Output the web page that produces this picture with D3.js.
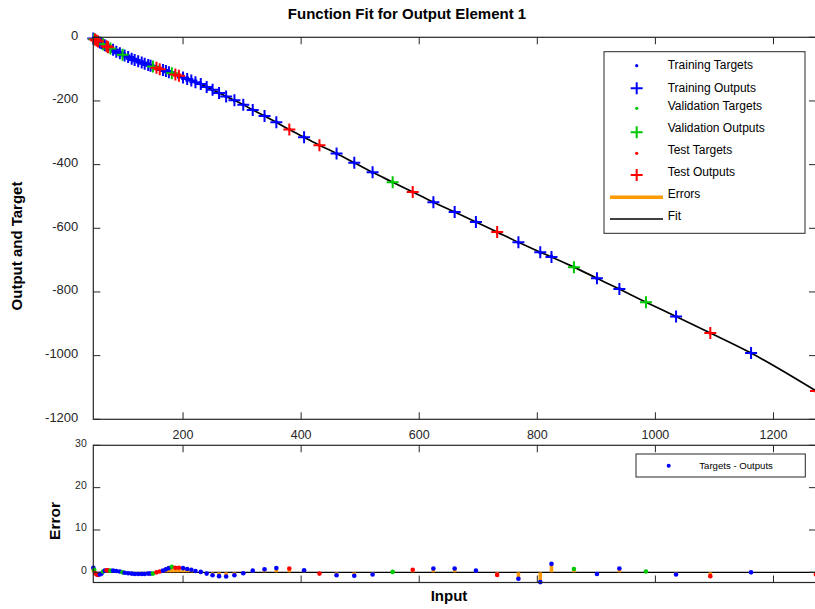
<!DOCTYPE html>
<html>
<head>
<meta charset="utf-8">
<script src="https://cdn.jsdelivr.net/npm/d3@7"></script>
<style>
  body { margin: 0; background: #fff; }
  svg { display: block; font-family: "Liberation Sans", Arial, Helvetica, sans-serif; }
</style>
</head>
<body>
<svg id="chart" width="815" height="609"></svg>
<script>
// Input samples, network outputs and targets for output element 1
const inputs = [48, 49.5, 51, 53.5, 56, 59, 62, 64.5, 67.5, 70.5, 73, 77, 81.5, 87, 93, 97.5, 101, 107, 113, 118,
  124, 130, 135, 141, 145, 149, 155, 160.5, 166, 171, 176, 181, 187, 193, 200, 207, 214, 221, 230, 240,
  250, 261, 273, 287, 302, 318, 338, 358, 380, 405, 431, 460, 490, 521, 555, 589, 624, 660, 696, 732,
  768, 805, 824, 862, 901, 939, 984, 1035, 1093, 1162, 1272];

const outputs = [-4, -6, -7, -10, -13, -16, -19, -22, -25, -28, -31, -35, -39, -45, -50, -55, -57, -62, -67, -71,
  -75, -79, -83, -87, -89, -92, -96, -100, -103, -106, -109.5, -113, -117, -121, -126, -131, -136, -141, -147, -156,
  -165, -175, -186, -198, -212, -228, -247, -267, -290, -314, -339, -365, -394, -424, -455, -486, -518, -549, -580, -612,
  -644, -675, -690, -722, -757, -791, -832, -877, -929, -992, -1111];

const targets = [-2.9, -5.4, -7.2, -10.5, -13.6, -16.5, -19.3, -21.8, -24.6, -27.5, -30.5, -34.6, -38.6, -44.7, -49.8, -55.0, -57.1, -62.2, -67.3, -71.4,
  -75.4, -79.4, -83.4, -87.3, -89.3, -92.3, -96.0, -99.8, -102.6, -105.3, -108.5, -111.7, -115.9, -119.9, -125.0, -130.2, -135.4, -140.7, -146.9, -156.3,
  -165.7, -175.9, -187.0, -198.7, -212.2, -227.6, -246.3, -266.0, -289.1, -313.5, -339.3, -365.7, -394.8, -424.5, -454.9, -485.4, -517.1, -548.1, -579.6, -612.6,
  -645.5, -677.3, -688.0, -721.2, -757.4, -790.1, -831.8, -877.5, -929.9, -992.0, -1111.5];

// Data division of each sample
const subsets = ["train", "val", "test", "test", "test", "train", "train", "val", "train", "test",
  "test", "val", "train", "train", "train", "val", "train", "train", "train", "train",
  "train", "train", "train", "train", "train", "val", "test", "test", "train", "train",
  "train", "val", "test", "test", "train", "train", "train", "train", "train", "train",
  "train", "train", "train", "train", "train", "train", "train", "train", "test", "train",
  "test", "train", "train", "train", "val", "test", "train", "train", "train", "test",
  "train", "train", "train", "val", "train", "train", "val", "train", "test", "train", "test"];

const xTicks = [200, 400, 600, 800, 1000, 1200];
const yTicks = [0, -200, -400, -600, -800, -1000, -1200];
const errTicks = [0, 10, 20, 30];

const subsetColor = { train: "#0000ff", val: "#00c800", test: "#ff0000" };
const errColor = "#ff9a00";
const axisColor = "#262626";

const rows = inputs.map((x, i) => ({
  x, out: outputs[i], tgt: targets[i], err: targets[i] - outputs[i], set: subsets[i]
}));

const svg = d3.select("#chart");

// layout of the two axes
const L = 93.3, R = 816;
const topT = 37.3, topB = 419.3;
const botT = 445.3, botB = 582.5;

const x = d3.scaleLinear().domain(d3.extent(inputs)).range([L, R]);
const y = d3.scaleLinear().domain([-1200, 0]).range([topB, topT]);
const ye = d3.scaleLinear().domain([-2.4, 30]).range([botB, botT]);

function frame(g, top, bottom, yScale, yVals, labelPad, fontSize, labelDy) {
  // box
  g.append("rect").attr("x", L).attr("y", top).attr("width", R - L).attr("height", bottom - top)
    .attr("fill", "none").attr("stroke", axisColor).attr("stroke-width", 1.2);
  // inward ticks on all four sides
  const tk = 7;
  xTicks.forEach(v => {
    g.append("line").attr("x1", x(v)).attr("x2", x(v)).attr("y1", bottom).attr("y2", bottom - tk)
      .attr("stroke", axisColor).attr("stroke-width", 1);
    g.append("line").attr("x1", x(v)).attr("x2", x(v)).attr("y1", top).attr("y2", top + tk)
      .attr("stroke", axisColor).attr("stroke-width", 1);
  });
  yVals.forEach(v => {
    g.append("line").attr("x1", L).attr("x2", L + tk).attr("y1", yScale(v)).attr("y2", yScale(v))
      .attr("stroke", axisColor).attr("stroke-width", 1);
    g.append("line").attr("x1", R).attr("x2", R - tk).attr("y1", yScale(v)).attr("y2", yScale(v))
      .attr("stroke", axisColor).attr("stroke-width", 1);
  });
  g.selectAll("text.ylab").data(yVals).join("text").attr("class", "ylab")
    .attr("x", L - labelPad).attr("y", d => yScale(d) + labelDy)
    .attr("text-anchor", "end").attr("font-size", fontSize).attr("fill", axisColor)
    .text(d => d);
}

// ---------- upper axes: function fit ----------
const gTop = svg.append("g");

// fit curve through the network outputs
gTop.append("path").datum(rows)
  .attr("d", d3.line().x(d => x(d.x)).y(d => y(d.out)).curve(d3.curveMonotoneX))
  .attr("fill", "none").attr("stroke", "#000").attr("stroke-width", 1.7);

// error segments between target and output
gTop.selectAll("line.err").data(rows).join("line").attr("class", "err")
  .attr("x1", d => x(d.x)).attr("x2", d => x(d.x))
  .attr("y1", d => y(d.tgt)).attr("y2", d => y(d.out))
  .attr("stroke", errColor).attr("stroke-width", 3);

// targets
gTop.selectAll("circle.tgt").data(rows).join("circle").attr("class", "tgt")
  .attr("cx", d => x(d.x)).attr("cy", d => y(d.tgt)).attr("r", 1.8)
  .attr("fill", d => subsetColor[d.set]);

// outputs as plus markers
const plus = "M-6,0H6M0,-6V6";
["train", "val", "test"].forEach(s => {
  gTop.selectAll("path.out-" + s).data(rows.filter(d => d.set === s)).join("path")
    .attr("class", "out-" + s)
    .attr("d", plus)
    .attr("transform", d => `translate(${x(d.x)},${y(d.out)})`)
    .attr("stroke", subsetColor[s]).attr("stroke-width", 2).attr("fill", "none");
});

frame(gTop, topT, topB, y, yTicks, 15, 13, 2.5);

// x tick labels under the upper axes
gTop.selectAll("text.xlab").data(xTicks).join("text").attr("class", "xlab")
  .attr("x", d => x(d)).attr("y", 439)
  .attr("text-anchor", "middle").attr("font-size", 12.5).attr("fill", axisColor)
  .text(d => d);

// legend
const lg = svg.append("g");
lg.append("rect").attr("x", 604).attr("y", 51.7).attr("width", 201).attr("height", 181.6)
  .attr("fill", "#fff").attr("stroke", axisColor).attr("stroke-width", 1);
const legendItems = [
  { label: "Training Targets", kind: "dot", color: subsetColor.train, my: 65.7, ty: 69 },
  { label: "Training Outputs", kind: "plus", color: subsetColor.train, my: 88.3, ty: 91.5 },
  { label: "Validation Targets", kind: "dot", color: subsetColor.val, my: 108.3, ty: 110 },
  { label: "Validation Outputs", kind: "plus", color: subsetColor.val, my: 132.3, ty: 131.5 },
  { label: "Test Targets", kind: "dot", color: subsetColor.test, my: 153.3, ty: 154 },
  { label: "Test Outputs", kind: "plus", color: subsetColor.test, my: 175, ty: 176 },
  { label: "Errors", kind: "line", color: errColor, my: 197.3, ty: 198, w: 3.4 },
  { label: "Fit", kind: "line", color: "#000", my: 219, ty: 220, w: 1.7 }
];
legendItems.forEach(it => {
  if (it.kind === "dot") {
    lg.append("circle").attr("cx", 636.7).attr("cy", it.my).attr("r", 1.6).attr("fill", it.color);
  } else if (it.kind === "plus") {
    lg.append("path").attr("d", plus).attr("transform", `translate(636.7,${it.my})`)
      .attr("stroke", it.color).attr("stroke-width", 2).attr("fill", "none");
  } else {
    lg.append("line").attr("x1", 610).attr("x2", 663).attr("y1", it.my).attr("y2", it.my)
      .attr("stroke", it.color).attr("stroke-width", it.w);
  }
  lg.append("text").attr("x", 667.7).attr("y", it.ty).attr("font-size", 12).attr("fill", "#000")
    .text(it.label);
});

// ---------- lower axes: errors ----------
const gBot = svg.append("g");
gBot.append("line").attr("x1", L).attr("x2", R).attr("y1", ye(0)).attr("y2", ye(0))
  .attr("stroke", "#000").attr("stroke-width", 1.3);
gBot.selectAll("line.ebar").data(rows).join("line").attr("class", "ebar")
  .attr("x1", d => x(d.x)).attr("x2", d => x(d.x))
  .attr("y1", ye(0)).attr("y2", d => ye(d.err))
  .attr("stroke", errColor).attr("stroke-width", 3.5);
gBot.selectAll("circle.edot").data(rows).join("circle").attr("class", "edot")
  .attr("cx", d => x(d.x)).attr("cy", d => ye(d.err)).attr("r", 2.3)
  .attr("fill", d => subsetColor[d.set]);

frame(gBot, botT, botB, ye, errTicks, 6.5, 10.5, 1.5);

// error legend
svg.append("rect").attr("x", 636).attr("y", 454).attr("width", 169.3).attr("height", 23)
  .attr("fill", "#fff").attr("stroke", axisColor).attr("stroke-width", 1);
svg.append("circle").attr("cx", 668.7).attr("cy", 465.7).attr("r", 2).attr("fill", subsetColor.train);
svg.append("text").attr("x", 699.3).attr("y", 468.5).attr("font-size", 9.6).attr("fill", "#000")
  .text("Targets - Outputs");

// ---------- titles ----------
svg.append("text").attr("x", 407).attr("y", 19).attr("text-anchor", "middle")
  .attr("font-size", 15).attr("font-weight", "bold").text("Function Fit for Output Element 1");
svg.append("text").attr("transform", "translate(22,246) rotate(-90)").attr("text-anchor", "middle")
  .attr("font-size", 15).attr("font-weight", "bold").text("Output and Target");
svg.append("text").attr("transform", "translate(60,521) rotate(-90)").attr("text-anchor", "middle")
  .attr("font-size", 15.5).attr("font-weight", "bold").text("Error");
svg.append("text").attr("x", 449).attr("y", 601).attr("text-anchor", "middle")
  .attr("font-size", 15).attr("font-weight", "bold").text("Input");
</script>
</body>
</html>
